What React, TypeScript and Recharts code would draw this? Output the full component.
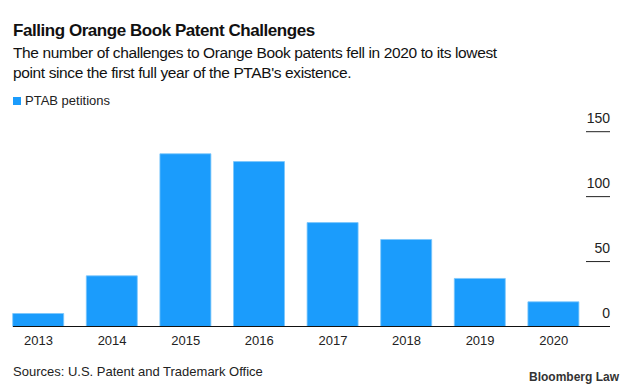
import React from "react";
import { Bar, BarChart, XAxis, YAxis } from "recharts";

const years = ["2013", "2014", "2015", "2016", "2017", "2018", "2019", "2020"];
const petitions = [10, 39, 133, 127, 80, 67, 37, 19];
const yTicks = [0, 50, 100, 150];

const data = years.map((year, i) => ({ year, petitions: petitions[i] }));

const FONT = "'Liberation Sans', Arial, Helvetica, sans-serif";
const BLUE = "#1b9cfc";

const RightTick = (props: any) => {
  const { x, y, payload } = props;
  const isZero = payload.value === 0;
  return (
    <g>
      {!isZero && (
        <line x1={x - 4.5} x2={x + 19.5} y1={y} y2={y} stroke="#222" strokeWidth={1} />
      )}
      <text
        x={x + 19.5}
        y={y - 8.5}
        textAnchor="end"
        fontSize={14}
        fontFamily={FONT}
        fill="#222"
      >
        {payload.value}
      </text>
    </g>
  );
};

const App = () => {
  return (
    <div
      style={{
        position: "absolute",
        left: 0,
        top: 0,
        width: 633,
        height: 392,
        background: "#fff",
        fontFamily: FONT,
        color: "#111",
      }}
    >
      <div style={{ position: "absolute", left: 13, top: 21, fontSize: 17, fontWeight: 700, letterSpacing: -0.45 }}>
        Falling Orange Book Patent Challenges
      </div>
      <div style={{ position: "absolute", left: 13, top: 43, fontSize: 15.5, lineHeight: "20px", width: 600, letterSpacing: -0.38 }}>
        The number of challenges to Orange Book patents fell in 2020 to its lowest
        <br />
        point since the first full year of the PTAB's existence.
      </div>
      <div
        style={{
          position: "absolute",
          left: 13,
          top: 93,
          display: "flex",
          alignItems: "center",
          fontSize: 13,
          color: "#222",
        }}
      >
        <span
          style={{ display: "inline-block", width: 8, height: 8, backgroundColor: BLUE, marginRight: 4 }}
        ></span>
        PTAB petitions
      </div>
      <div style={{ position: "absolute", left: 0, top: 0 }}>
        <BarChart
          width={633}
          height={392}
          data={data}
          margin={{ top: 131.7, right: 23, bottom: 35.5, left: 1.7 }}
          barSize={51}
        >
          <XAxis
            dataKey="year"
            tickLine={false}
            axisLine={false}
            tickMargin={3}
            height={30}
            tick={{ fontSize: 13, fill: "#222", fontFamily: FONT }}
            interval={0}
          />
          <YAxis
            orientation="right"
            domain={[0, 150]}
            ticks={yTicks}
            width={19.5}
            tickLine={false}
            axisLine={false}
            tickSize={0}
            tickMargin={0}
            tick={<RightTick />}
            interval={0}
          />
          <Bar dataKey="petitions" fill={BLUE} stroke="#7cc6fb" strokeWidth={0.8} isAnimationActive={false} />
        </BarChart>
      </div>
      <div
        style={{ position: "absolute", left: 13, top: 325.5, width: 597, height: 1.5, background: "#111" }}
      ></div>
      <div style={{ position: "absolute", left: 13, top: 364, fontSize: 13, color: "#222" }}>
        Sources: U.S. Patent and Trademark Office
      </div>
      <div style={{ position: "absolute", right: 14, top: 370, fontSize: 12, fontWeight: 700, color: "#333" }}>
        Bloomberg Law
      </div>
    </div>
  );
};

export default App;
